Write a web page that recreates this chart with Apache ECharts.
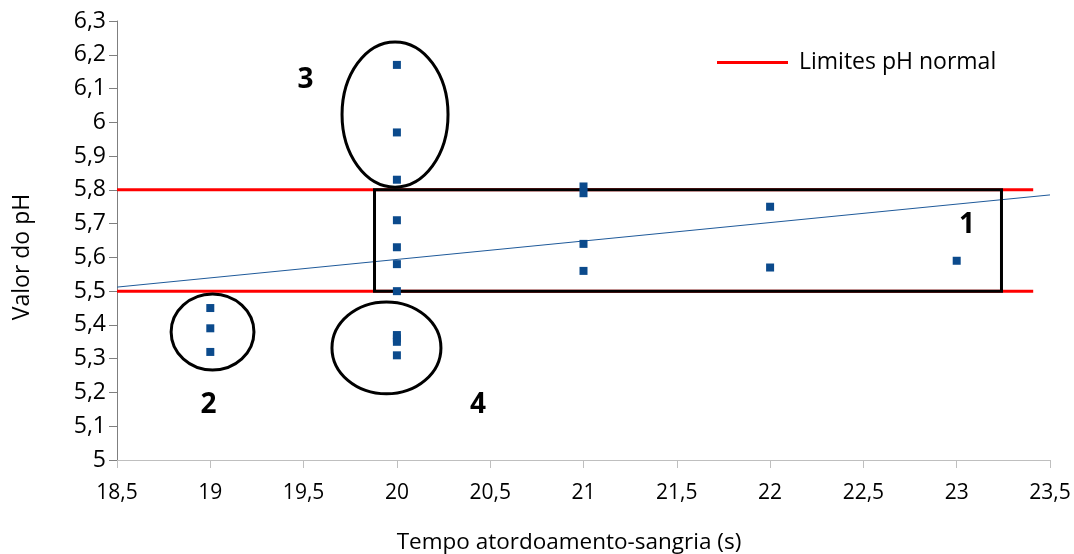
<!DOCTYPE html>
<html>
<head>
<meta charset="utf-8">
<script src="https://cdn.jsdelivr.net/npm/echarts@6/dist/echarts.min.js"></script>
<style>html,body{margin:0;padding:0;background:#fff}#c{width:1074px;height:554px}</style>
</head>
<body>
<div id="c"></div>
<script>
// Data
const points = [
  [19, 5.45], [19, 5.39], [19, 5.32],
  [20, 6.17], [20, 5.97], [20, 5.83], [20, 5.71], [20, 5.63], [20, 5.58], [20, 5.50],
  [20, 5.37], [20, 5.36], [20, 5.35], [20, 5.31],
  [21, 5.81], [21, 5.79], [21, 5.64], [21, 5.56],
  [22, 5.75], [22, 5.57],
  [23, 5.59]
];
const trendLine = [[18.5, 5.512], [23.5, 5.785]];
const lowerLimit = [[18.5, 5.5], [23.41, 5.5]];
const upperLimit = [[18.5, 5.8], [23.41, 5.8]];
const limitName = 'Limites pH normal';
// annotation box (group 1): [x0, y0, x1, y1]
const box1 = [[19.88, 5.5, 23.24, 5.8]];
// annotation ellipses: [cx, cy, rx, ry] in data units
const ellipses = [
  [19.012, 5.379, 0.222, 0.1125],
  [19.99, 6.023, 0.284, 0.215],
  [19.944, 5.332, 0.292, 0.136]
];
// group labels: [x, y, text]
const groupLabels = [
  [23.055, 5.696, '1'],
  [18.99, 5.163, '2'],
  [19.51, 6.125, '3'],
  [20.435, 5.163, '4']
];
const xTitle = 'Tempo atordoamento-sangria (s)';
const yTitle = 'Valor do pH';

const FONT = "'Open Sans', 'Noto Sans', sans-serif";
const fmt = v => String(Math.round(v * 10) / 10).replace('.', ',');

const chart = echarts.init(document.getElementById('c'), null, {renderer: 'canvas'});
chart.setOption({
  animation: false,
  backgroundColor: '#fff',
  grid: {left: 117, right: 24, top: 21, bottom: 94},
  legend: {
    data: [{name: limitName, icon: 'rect'}],
    left: 712, top: 46,
    itemWidth: 71, itemHeight: 3, itemGap: 10,
    textStyle: {fontFamily: FONT, fontSize: 23, color: '#000', padding: [0, 0, 0, 6]}
  },
  graphic: [
    {type: 'text', x: 569, y: 543,
     style: {text: xTitle, fontFamily: FONT, fontSize: 22.5, fill: '#000', align: 'center', verticalAlign: 'middle'}},
    {type: 'text', x: 22, y: 257, rotation: Math.PI / 2,
     style: {text: yTitle, fontFamily: FONT, fontSize: 23, fill: '#000', align: 'center', verticalAlign: 'middle'}}
  ],
  xAxis: {
    type: 'value', min: 18.5, max: 23.5, interval: 0.5,
    axisLine: {show: true, lineStyle: {color: '#bfbfbf', width: 1}},
    axisTick: {show: true, length: 8, lineStyle: {color: '#bfbfbf'}},
    axisLabel: {formatter: fmt, fontFamily: FONT, fontSize: 21, color: '#000', margin: 23},
    splitLine: {show: false}
  },
  yAxis: {
    type: 'value', min: 5, max: 6.3, interval: 0.1,
    axisLine: {show: true, lineStyle: {color: '#7f7f7f', width: 1}},
    axisTick: {show: true, length: 8, lineStyle: {color: '#7f7f7f'}},
    axisLabel: {formatter: fmt, fontFamily: FONT, fontSize: 23, color: '#000', margin: 11},
    splitLine: {show: false}
  },
  series: [
    {
      name: limitName, type: 'line', data: upperLimit, symbol: 'none', z: 3,
      lineStyle: {color: '#ff0000', width: 3}, itemStyle: {color: '#ff0000'}
    },
    {
      name: limitName, type: 'line', data: lowerLimit, symbol: 'none', z: 3,
      lineStyle: {color: '#ff0000', width: 3}, itemStyle: {color: '#ff0000'}
    },
    {
      name: 'trend', type: 'line', data: trendLine, symbol: 'none', z: 4,
      lineStyle: {color: '#1f5a9a', width: 1}
    },
    {
      name: 'box', type: 'custom', z: 5, data: box1,
      renderItem: (params, api) => {
        const p0 = api.coord([api.value(0), api.value(1)]);
        const p1 = api.coord([api.value(2), api.value(3)]);
        return {
          type: 'rect',
          shape: {x: p0[0], y: p1[1], width: p1[0] - p0[0], height: p0[1] - p1[1]},
          style: {fill: null, stroke: '#000', lineWidth: 3}
        };
      }
    },
    {
      name: 'ellipses', type: 'custom', z: 5, data: ellipses,
      renderItem: (params, api) => {
        const c = api.coord([api.value(0), api.value(1)]);
        const e = api.coord([api.value(0) + api.value(2), api.value(1) + api.value(3)]);
        return {
          type: 'ellipse',
          shape: {cx: c[0], cy: c[1], rx: e[0] - c[0], ry: c[1] - e[1]},
          style: {fill: null, stroke: '#000', lineWidth: 3}
        };
      }
    },
    {
      name: 'labels', type: 'custom', z: 6, data: groupLabels,
      renderItem: (params, api) => {
        const c = api.coord([api.value(0), api.value(1)]);
        return {
          type: 'text', x: c[0], y: c[1],
          style: {text: groupLabels[params.dataIndex][2], fontFamily: FONT, fontWeight: 'bold',
                  fontSize: 28, fill: '#000', align: 'center', verticalAlign: 'middle'}
        };
      }
    },
    {
      name: 'pH', type: 'scatter', data: points, z: 7,
      symbol: 'rect', symbolSize: 8,
      itemStyle: {color: '#0b4a8c', opacity: 1}
    }
  ]
});
</script>
</body>
</html>
